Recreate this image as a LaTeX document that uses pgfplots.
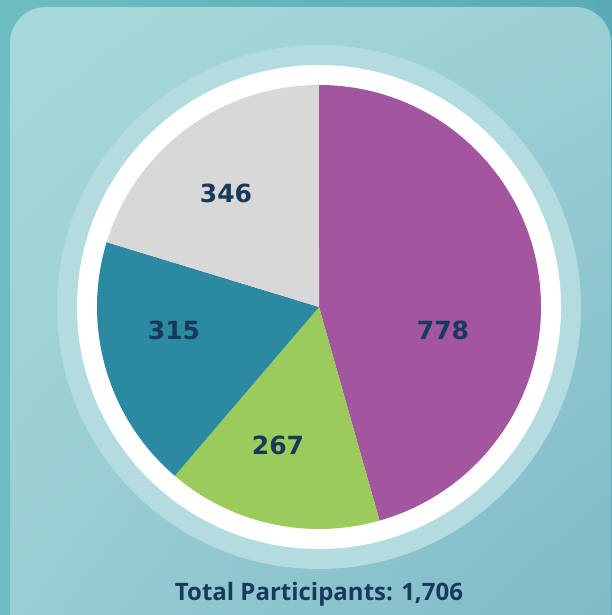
\documentclass[border=0pt]{standalone}
\usepackage{pgfplots}
\pgfplotsset{compat=1.18}
\usepackage{fontspec}
\setmainfont{Open Sans}
\newfontfamily\labfont{DejaVu Sans}
\usetikzlibrary{shadings}
\definecolor{bgA}{HTML}{6DBDC2}
\definecolor{bgB}{HTML}{5AAAB8}
\definecolor{cardA}{HTML}{A8D9DA}
\definecolor{cardB}{HTML}{7DB9C7}
\definecolor{ringc}{HTML}{B3DBE0}
\definecolor{cPurple}{HTML}{A1569F}
\definecolor{cGreen}{HTML}{9BCB5A}
\definecolor{cTeal}{HTML}{2B8AA1}
\definecolor{cGray}{HTML}{D8D8D8}
\definecolor{txt}{HTML}{17395A}
\begin{document}
\begin{tikzpicture}
\useasboundingbox (0,0) rectangle (612pt,615pt);
\clip (0,0) rectangle (612pt,615pt);
\begin{axis}[
  at={(0,0)}, anchor=south west,
  scale only axis, width=612pt, height=615pt,
  xmin=0, xmax=612, ymin=0, ymax=615,
  hide axis, clip=false,
]
% background
\fill[left color=bgA, right color=bgB] (axis cs:0,0) rectangle (axis cs:612,615);
\shade[upper left=cardA, upper right=cardA!70!cardB, lower left=cardA!60!cardB, lower right=cardB, rounded corners=36pt]
  (axis cs:10,-40) rectangle (axis cs:611,608);
% rings
\fill[ringc] (axis cs:319,308) circle[radius=262];
\fill[white] (axis cs:319,308) circle[radius=242];
% slices: 778, 267, 315, 346 of 1706, clockwise from top
\fill[cPurple] (axis cs:319,308) -- ++(90:222) arc[start angle=90, delta angle={-778/1706*360}, radius=222] -- cycle;
\fill[cGreen] (axis cs:319,308) -- ++({90-778/1706*360}:222) arc[start angle={90-778/1706*360}, delta angle={-267/1706*360}, radius=222] -- cycle;
\fill[cTeal] (axis cs:319,308) -- ++({90-(778+267)/1706*360}:222) arc[start angle={90-(778+267)/1706*360}, delta angle={-315/1706*360}, radius=222] -- cycle;
\fill[cGray] (axis cs:319,308) -- ++({90-(778+267+315)/1706*360}:222) arc[start angle={90-(778+267+315)/1706*360}, delta angle={-346/1706*360}, radius=222] -- cycle;
% labels
\node[text=txt, font=\labfont\bfseries\fontsize{25}{28}\selectfont] at (axis cs:443,285) {778};
\node[text=txt, font=\labfont\bfseries\fontsize{25}{28}\selectfont] at (axis cs:278,170) {267};
\node[text=txt, font=\labfont\bfseries\fontsize{25}{28}\selectfont] at (axis cs:174,285) {315};
\node[text=txt, font=\labfont\bfseries\fontsize{25}{28}\selectfont] at (axis cs:226,422) {346};
\node[text=txt, font=\bfseries\fontsize{24}{28}\selectfont] at (axis cs:319,21) {Total Participants: 1,706};
\end{axis}
\end{tikzpicture}
\end{document}
